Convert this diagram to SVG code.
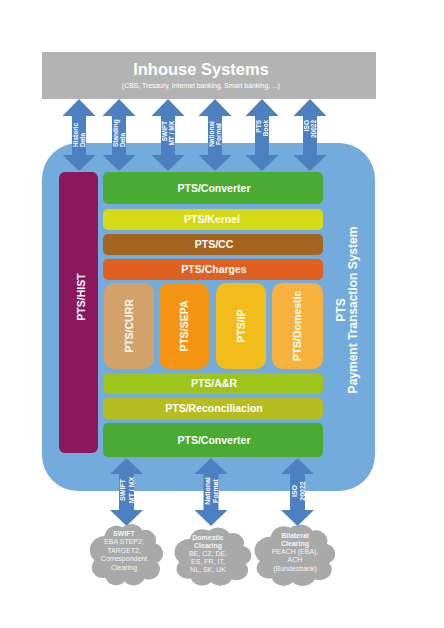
<svg xmlns="http://www.w3.org/2000/svg" width="444" height="628" viewBox="0 0 444 628">
<defs>
<style>
text{font-family:"Liberation Sans",Arial,sans-serif;fill:#ffffff}
.bar{font-size:10.5px;font-weight:bold;text-anchor:middle}
.lbl{font-size:6.5px;font-weight:bold}
.blbl{font-size:7px;font-weight:bold;text-anchor:middle}
.cl{font-size:7px;text-anchor:middle;fill:#f4f4f4}
.arrow{fill:#4d80c0}
.cloud{fill:#a9a9a9}
</style>
<path id="arTop" d="M0,0 L16.5,17 L7,17 L7,56 L16.5,56 L0,72 L-16.5,56 L-7,56 L-7,17 L-16.5,17 Z"/>
<path id="arBot" d="M0,0 L16.5,16 L7.5,16 L7.5,52 L16.5,52 L0,68 L-16.5,52 L-7.5,52 L-7.5,16 L-16.5,16 Z"/>
<path id="cloudShape" d="M-22,-18 A12,12 0 0 1 -4,-27 A13,13 0 0 1 16,-24 A11,11 0 0 1 29,-10 A11,11 0 0 1 31,10 A11,11 0 0 1 18,27 A12,12 0 0 1 -2,30 A11,11 0 0 1 -21,26 A11,11 0 0 1 -32,8 A15,15 0 0 1 -22,-18 Z"/>
</defs>

<g id="inhouse">
<rect x="42" y="52" width="334" height="47" fill="#b3b3b3"/>
<text x="201" y="75" font-size="16.5" font-weight="bold" text-anchor="middle">Inhouse Systems</text>
<text x="201" y="88" font-size="6.8" text-anchor="middle">(CBS, Tresaury, Internet banking, Smart banking,  ...)</text>
</g>

<g id="pts">
<rect x="42" y="143" width="333" height="348" rx="36" fill="#72abdc"/>
<text transform="rotate(-90 345 310)" x="345" y="310" font-size="12" font-weight="bold" text-anchor="middle">PTS</text>
<text transform="rotate(-90 357 310)" x="357" y="310" font-size="12" font-weight="bold" text-anchor="middle">Payment Transaction System</text>
</g>

<g id="hist">
<rect x="59" y="172" width="39" height="281" rx="6" fill="#8b175d"/>
<text class="bar" transform="rotate(-90 81 297)" x="81" y="301">PTS/HIST</text>
</g>

<g id="converter-top">
<rect x="103" y="172" width="220" height="32" rx="5" fill="#4aab34"/>
<text class="bar" x="214" y="192">PTS/Converter</text>
</g>
<g id="kernel">
<rect x="103" y="209" width="220" height="21" rx="5" fill="#d4db16"/>
<text class="bar" x="212" y="223.3">PTS/Kernel</text>
</g>
<g id="cc">
<rect x="103" y="234" width="220" height="21" rx="5" fill="#a5651f"/>
<text class="bar" x="214" y="248.3">PTS/CC</text>
</g>
<g id="charges">
<rect x="103" y="259" width="220" height="21" rx="5" fill="#e06020"/>
<text class="bar" x="214" y="273.3">PTS/Charges</text>
</g>

<g id="curr">
<rect x="104" y="283" width="50" height="86" rx="10" fill="#d3a26b"/>
<text class="bar" transform="rotate(-90 129 326)" x="129" y="329.8">PTS/CURR</text>
</g>
<g id="sepa">
<rect x="159" y="283" width="50" height="86" rx="10" fill="#f39512"/>
<text class="bar" transform="rotate(-90 184 326)" x="184" y="329.8">PTS/SEPA</text>
</g>
<g id="ip">
<rect x="216" y="283" width="50" height="86" rx="10" fill="#f2bd1a"/>
<text class="bar" transform="rotate(-90 241 326)" x="241" y="329.8">PTS/IP</text>
</g>
<g id="domestic">
<rect x="272" y="283" width="51" height="86" rx="10" fill="#f7b23e"/>
<text class="bar" transform="rotate(-90 297.5 326)" x="297.5" y="329.8">PTS/Domestic</text>
</g>

<g id="ar">
<rect x="103" y="373" width="220" height="21" rx="5" fill="#9cc41a"/>
<text class="bar" x="214" y="387.3">PTS/A&amp;R</text>
</g>
<g id="reconciliacion">
<rect x="103" y="398" width="220" height="21" rx="5" fill="#b5bd20"/>
<text class="bar" x="214" y="412.3">PTS/Reconciliacion</text>
</g>
<g id="converter-bottom">
<rect x="103" y="423" width="220" height="34" rx="5" fill="#4aab34"/>
<text class="bar" x="214" y="444">PTS/Converter</text>
</g>

<g id="connectors">
<use href="#arTop" class="arrow" transform="translate(79,99)"/>
<use href="#arTop" class="arrow" transform="translate(119,99)"/>
<use href="#arTop" class="arrow" transform="translate(168,99)"/>
<use href="#arTop" class="arrow" transform="translate(215,99)"/>
<use href="#arTop" class="arrow" transform="translate(262,99)"/>
<use href="#arTop" class="arrow" transform="translate(310,99)"/>
<use href="#arBot" class="arrow" transform="translate(126.5,458)"/>
<use href="#arBot" class="arrow" transform="translate(211,458)"/>
<use href="#arBot" class="arrow" transform="translate(297.5,458)"/>

<g transform="rotate(-90 79 147)">
<text class="lbl" x="79" y="146.1">Historic</text>
<text class="lbl" x="79" y="153.1">Data</text>
</g>
<g transform="rotate(-90 119 147)">
<text class="lbl" x="119" y="146.1">Standing</text>
<text class="lbl" x="119" y="153.1">Data</text>
</g>
<g transform="rotate(-90 168 121)" text-anchor="end">
<text class="lbl" x="168" y="120.1">SWIFT</text>
<text class="lbl" x="168" y="127.1">MT / MX</text>
</g>
<g transform="rotate(-90 215 134)" text-anchor="middle">
<text class="lbl" x="215" y="133.1">National</text>
<text class="lbl" x="215" y="140.1">Format</text>
</g>
<g transform="rotate(-90 262 120)" text-anchor="end">
<text class="lbl" x="262" y="119.1">PTS</text>
<text class="lbl" x="262" y="126.1">Book</text>
</g>
<g transform="rotate(-90 310 120)" text-anchor="end">
<text class="lbl" x="310" y="119.1">ISO</text>
<text class="lbl" x="310" y="126.1">20022</text>
</g>

<g transform="rotate(-90 126.5 490)">
<text class="blbl" x="126.5" y="488">SWIFT</text>
<text class="blbl" x="126.5" y="497.5">MT / MX</text>
</g>
<g transform="rotate(-90 211 491)">
<text class="blbl" x="211" y="490">National</text>
<text class="blbl" x="211" y="498">Format</text>
</g>
<g transform="rotate(-90 297.5 491)">
<text class="blbl" x="297.5" y="490">ISO</text>
<text class="blbl" x="297.5" y="498.5">20022</text>
</g>
</g>

<g id="cloud-swift">
<use href="#cloudShape" class="cloud" transform="translate(126.5,553) scale(1,0.95)"/>
<text class="cl" x="124" y="535.5" font-weight="bold">SWIFT</text>
<text class="cl" x="124" y="544">EBA STEP2;</text>
<text class="cl" x="124" y="552.5">TARGET2,</text>
<text class="cl" x="124" y="561">Correspondent</text>
<text class="cl" x="124" y="569.5">Clearing</text>
</g>
<g id="cloud-domestic">
<use href="#cloudShape" class="cloud" transform="translate(213,555) scale(1.05,0.9)"/>
<text class="cl" x="208" y="539.5" font-weight="bold">Domestic</text>
<text class="cl" x="208" y="547.5" font-weight="bold">Clearing</text>
<text class="cl" x="208" y="555.5">BE, CZ, DE,</text>
<text class="cl" x="208" y="563.5">ES, FR, IT,</text>
<text class="cl" x="208" y="571.5">NL, SK, UK</text>
</g>
<g id="cloud-bilateral">
<use href="#cloudShape" class="cloud" transform="translate(295,553.5) scale(1.1,0.95)"/>
<text class="cl" x="295" y="537.5" font-weight="bold">Bilateral</text>
<text class="cl" x="295" y="546" font-weight="bold">Clearing</text>
<text class="cl" x="295" y="554">PEACH (EBA),</text>
<text class="cl" x="295" y="562.2">ACH</text>
<text class="cl" x="295" y="570.5">(Bundesbank)</text>
</g>
</svg>
